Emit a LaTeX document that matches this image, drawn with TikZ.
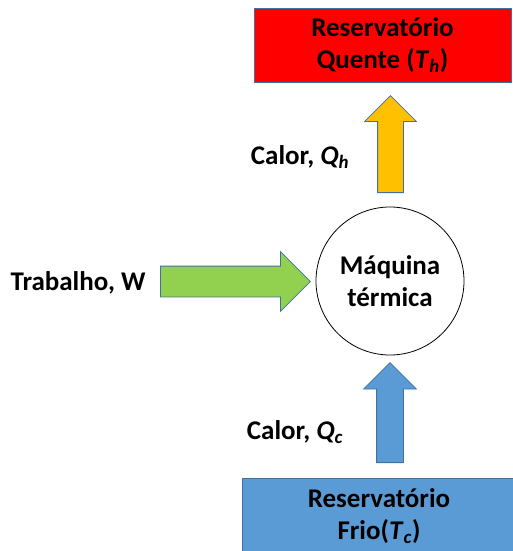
\documentclass[tikz,border=0pt]{standalone}
\usepackage{fontspec}
\setmainfont{Carlito}
\usetikzlibrary{shapes.arrows}
\definecolor{rouge}{HTML}{FF0000}
\definecolor{bleu}{HTML}{5B9BD5}
\definecolor{jaune}{HTML}{FFC000}
\definecolor{vert}{HTML}{92D050}
\definecolor{bord}{HTML}{41719C}
\begin{document}
\begin{tikzpicture}[x=1pt,y=1pt,
  texte/.style={font=\fontsize{27}{32}\selectfont\bfseries,align=center},
  reserv/.style={draw=bord,line width=0.8pt,texte},
  fleche/.style={single arrow,draw=bord,line width=0.8pt,inner xsep=0pt,anchor=tail}]
\useasboundingbox (0,0) rectangle (512,-551);
\node[reserv,fill=rouge,minimum width=257,minimum height=74] (chaud) at (382.5,-45) {Reservatório\\Quente (\textit{T}\textsubscript{\textit{h}})};
\node[reserv,fill=bleu,minimum width=274,minimum height=77] (froid) at (379,-516.5) {Reservatório\\Frio(\textit{T}\textsubscript{\textit{c}})};
\node[draw,circle,line width=0.8pt,minimum size=148,texte] (machine) at (390,-281) {Máquina\\térmica};
\node[fleche,fill=jaune,rotate=90,minimum height=97,inner ysep=12.5,single arrow head extend=13] (qh) at (390.5,-193) {};
\node[fleche,fill=bleu,rotate=90,minimum height=100,inner ysep=13,single arrow head extend=13] (qc) at (390,-463) {};
\node[fleche,fill=vert,minimum height=150,inner ysep=15,single arrow head extend=14.5] (w) at (160,-281.5) {};
\node[texte] at (300,-157) {Calor, \textit{Q}\textsubscript{\textit{h}}};
\node[texte] at (295,-432) {Calor, \textit{Q}\textsubscript{\textit{c}}};
\node[texte,anchor=east] at (149,-283) {Trabalho, W};
\end{tikzpicture}
\end{document}
